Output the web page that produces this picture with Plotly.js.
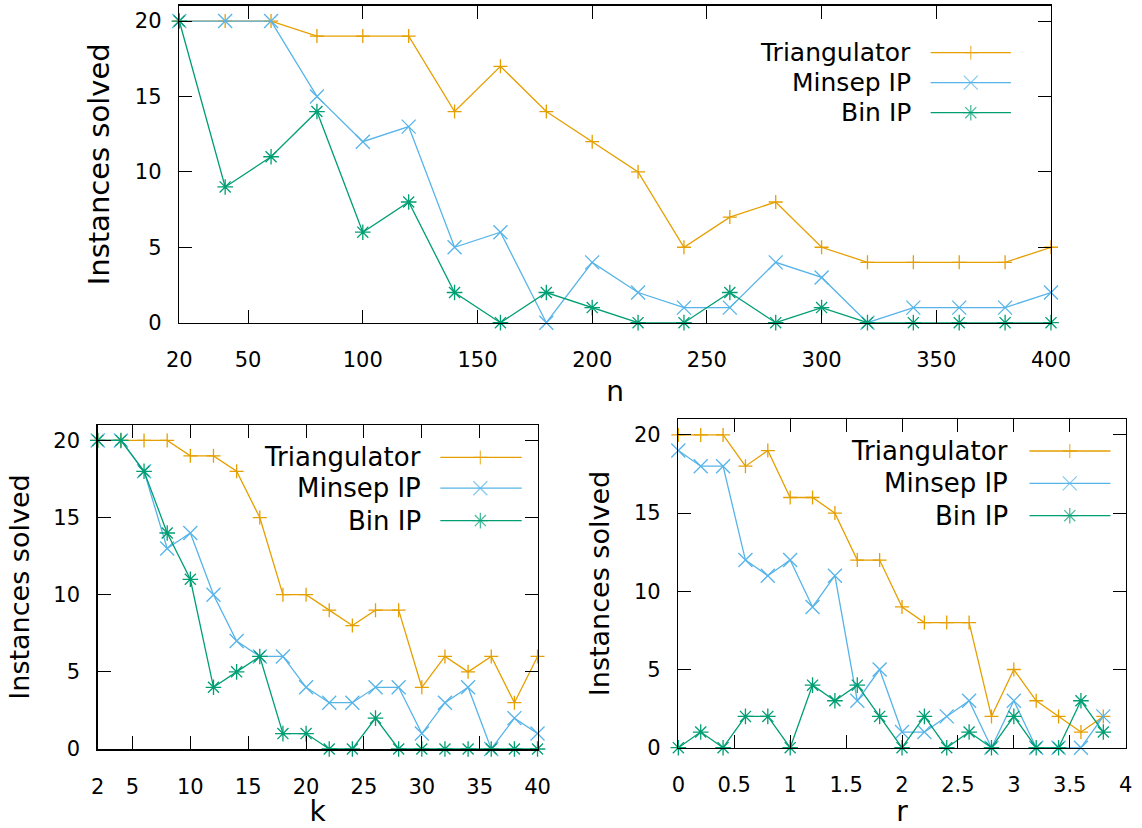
<!DOCTYPE html>
<html>
<head>
<meta charset="utf-8">
<script src="https://cdn.plot.ly/plotly-3.0.1.min.js"></script>
<style>
html,body{margin:0;padding:0;background:#ffffff;}
#chart{width:1142px;height:828px;}
</style>
</head>
<body>
<div id="chart"></div>
<script>
// ---------- data ----------
const seriesNames = ['Triangulator', 'Minsep IP', 'Bin IP'];

const nValues = [20, 40, 60, 80, 100, 120, 140, 160, 180, 200, 220, 240, 260, 280, 300, 320, 340, 360, 380, 400];
const triangulatorN = [20, 20, 20, 19, 19, 19, 14, 17, 14, 12, 10, 5, 7, 8, 5, 4, 4, 4, 4, 5];
const minsepN       = [20, 20, 20, 15, 12, 13, 5, 6, 0, 4, 2, 1, 1, 4, 3, 0, 1, 1, 1, 2];
const binN          = [20, 9, 11, 14, 6, 8, 2, 0, 2, 1, 0, 0, 2, 0, 1, 0, 0, 0, 0, 0];

const kValues = [2, 4, 6, 8, 10, 12, 14, 16, 18, 20, 22, 24, 26, 28, 30, 32, 34, 36, 38, 40];
const triangulatorK = [20, 20, 20, 20, 19, 19, 18, 15, 10, 10, 9, 8, 9, 9, 4, 6, 5, 6, 3, 6];
const minsepK       = [20, 20, 18, 13, 14, 10, 7, 6, 6, 4, 3, 3, 4, 4, 1, 3, 4, 0, 2, 1];
const binK          = [20, 20, 18, 14, 11, 4, 5, 6, 1, 1, 0, 0, 2, 0, 0, 0, 0, 0, 0, 0];

const rValues = [0, 0.2, 0.4, 0.6, 0.8, 1.0, 1.2, 1.4, 1.6, 1.8, 2.0, 2.2, 2.4, 2.6, 2.8, 3.0, 3.2, 3.4, 3.6, 3.8];
const triangulatorR = [20, 20, 20, 18, 19, 16, 16, 15, 12, 12, 9, 8, 8, 8, 2, 5, 3, 2, 1, 2];
const minsepR       = [19, 18, 18, 12, 11, 12, 9, 11, 3, 5, 1, 1, 2, 3, 0, 3, 0, 0, 0, 2];
const binR          = [0, 1, 0, 2, 2, 0, 4, 3, 4, 2, 0, 2, 0, 1, 0, 2, 0, 0, 3, 1];

const nTicks = [20, 50, 100, 150, 200, 250, 300, 350, 400];
const kTicks = [2, 5, 10, 15, 20, 25, 30, 35, 40];
const rTicks = [0, 0.5, 1, 1.5, 2, 2.5, 3, 3.5, 4];
const yTicks = [0, 5, 10, 15, 20];

// ---------- style ----------
const colors = ['#e69f00', '#56b4e9', '#009e73'];
const symbols = ['cross-thin-open', 'x-thin-open', 'asterisk-open'];
const symbolSizes = [10, 14, 13];
const FONT = 'DejaVu Sans, Verdana, sans-serif';

const panels = [
  {xa: 'x',  ya: 'y',  lx: 'x4', ly: 'y4', x: nValues, ys: [triangulatorN, minsepN, binN],
   legend: {textX: 0.842, x0: 0.862, xm: 0.908, x1: 0.954, rows: [0.8525, 0.758, 0.663], font: 25}},
  {xa: 'x2', ya: 'y2', lx: 'x5', ly: 'y5', x: kValues, ys: [triangulatorK, minsepK, binK],
   legend: {textX: 0.739, x0: 0.779, xm: 0.870, x1: 0.964, rows: [0.900, 0.805, 0.705], font: 26}},
  {xa: 'x3', ya: 'y3', lx: 'x6', ly: 'y6', x: rValues, ys: [triangulatorR, minsepR, binR],
   legend: {textX: 0.7425, x0: 0.785, xm: 0.875, x1: 0.966, rows: [0.9035, 0.805, 0.7065], font: 26}}
];

const traces = [];
const annotations = [];
panels.forEach(p => {
  p.ys.forEach((ys, i) => {
    traces.push({
      type: 'scatter', mode: 'lines+markers', name: seriesNames[i],
      x: p.x, y: ys, xaxis: p.xa, yaxis: p.ya, cliponaxis: false, showlegend: false,
      line: {color: colors[i], width: 1.3},
      marker: {symbol: symbols[i], size: symbolSizes[i], color: colors[i], line: {color: colors[i], width: 1.3}}
    });
    // legend sample (key) drawn on a hidden overlay axis in [0,1] plot-area units
    const L = p.legend;
    traces.push({
      type: 'scatter', mode: 'lines+markers', name: seriesNames[i] + ' key',
      x: [L.x0, L.xm, L.x1], y: [L.rows[i], L.rows[i], L.rows[i]],
      xaxis: p.lx, yaxis: p.ly, cliponaxis: false, showlegend: false, hoverinfo: 'skip',
      line: {color: colors[i], width: 1.3},
      marker: {symbol: symbols[i], size: [0, symbolSizes[i], 0], color: colors[i], line: {color: colors[i], width: 1.3}}
    });
    annotations.push({
      xref: p.xa + ' domain', yref: p.ya + ' domain', x: L.textX, y: L.rows[i],
      xanchor: 'right', yanchor: 'middle', showarrow: false, text: seriesNames[i],
      font: {family: FONT, size: L.font, color: '#000'}
    });
  });
});

function xAxis(domain, anchor, range, tickvals, title) {
  return {
    domain: domain, anchor: anchor, range: range, tickvals: tickvals,
    ticks: 'inside', ticklen: 13, tickwidth: 1, tickcolor: '#000',
    showline: true, linecolor: '#000', linewidth: 1.5, mirror: 'ticks',
    showgrid: false, zeroline: false, ticklabelstandoff: 18,
    tickfont: {family: FONT, size: 21, color: '#000'},
    title: {text: title, font: {family: FONT, size: 28, color: '#000'}, standoff: 10}
  };
}
function yAxis(domain, anchor, titleSize) {
  return {
    domain: domain, anchor: anchor, range: [0, 21], tickvals: yTicks,
    ticks: 'inside', ticklen: 13, tickwidth: 1, tickcolor: '#000',
    showline: true, linecolor: '#000', linewidth: 1.5, mirror: 'ticks',
    showgrid: false, zeroline: false, ticklabelstandoff: 12,
    tickfont: {family: FONT, size: 21, color: '#000'},
    title: {text: 'Instances solved', font: {family: FONT, size: titleSize, color: '#000'}, standoff: 16}
  };
}
function overlay(over, anchor) {
  return {overlaying: over, anchor: anchor, range: [0, 1], visible: false, fixedrange: true};
}

const layout = {
  width: 1142, height: 828,
  margin: {l: 0, r: 0, t: 0, b: 0},
  paper_bgcolor: '#ffffff', plot_bgcolor: '#ffffff',
  showlegend: false,
  font: {family: FONT, color: '#000'},
  xaxis:  xAxis([0.1570, 0.9203], 'y',  [20, 400], nTicks, 'n'),
  yaxis:  yAxis([0.6103, 0.9928], 'x', 29),
  xaxis2: xAxis([0.0856, 0.4707], 'y2', [2, 40], kTicks, 'k'),
  yaxis2: yAxis([0.0954, 0.4867], 'x2', 27),
  xaxis3: xAxis([0.5940, 0.9857], 'y3', [0, 4], rTicks, 'r'),
  yaxis3: yAxis([0.0970, 0.4936], 'x3', 27),
  xaxis4: overlay('x', 'y4'),  yaxis4: overlay('y', 'x4'),
  xaxis5: overlay('x2', 'y5'), yaxis5: overlay('y2', 'x5'),
  xaxis6: overlay('x3', 'y6'), yaxis6: overlay('y3', 'x6'),
  annotations: annotations
};

Plotly.newPlot('chart', traces, layout, {displayModeBar: false, staticPlot: true});
</script>
</body>
</html>
